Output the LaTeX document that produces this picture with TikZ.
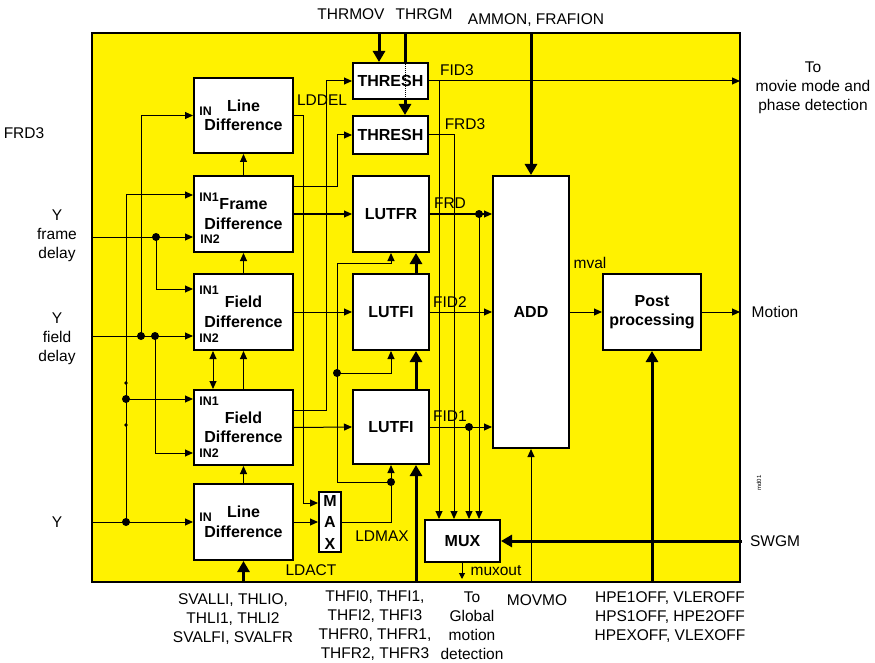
\documentclass[tikz,border=0pt]{standalone}
\usepackage{fontspec}
\setmainfont{Liberation Sans}
\usetikzlibrary{arrows.meta}

\begin{document}
\begin{tikzpicture}[x=1pt,y=-1pt,>={Triangle[length=8pt,width=7pt]},
    blk/.style={draw,fill=white,line width=2pt,inner sep=0pt,align=center,
      font=\bfseries\fontsize{16}{19.5}\selectfont},
    lbl/.style={inner sep=0pt,align=center,font=\fontsize{15.5}{19}\selectfont},
    pin/.style={inner sep=0pt,font=\bfseries\fontsize{12.4}{14}\selectfont},
    sig/.style={line width=1pt},
    bus/.style={line width=3pt,>={Triangle[length=11pt,width=12pt]}}]
    \useasboundingbox (0,0) rectangle (875,663);
    \draw[line width=2pt,fill=yellow] (92,33) rectangle (740,582);
    % difference blocks
    \node[blk,minimum width=99pt,minimum height=75pt] (ld1) at (243.5,115.5) {Line\\Difference};
    \node[blk,minimum width=99pt,minimum height=76pt] (fd) at (243.5,214) {Frame\\Difference};
    \node[blk,minimum width=99pt,minimum height=76pt] (fi1) at (243.5,312) {Field\\Difference};
    \node[blk,minimum width=99pt,minimum height=75pt] (fi2) at (243.5,427.5) {Field\\Difference};
    \node[blk,minimum width=99pt,minimum height=76pt] (ld2) at (243.5,522) {Line\\Difference};
    \node[pin] (ld1in) at (205.5,111) {IN};
    \node[pin] (fdin1) at (209,197) {IN1};
    \node[pin] (fdin2) at (210,239) {IN2};
    \node[pin] (fi1in1) at (209,290) {IN1};
    \node[pin] (fi1in2) at (209,338) {IN2};
    \node[pin] (fi2in1) at (209,401) {IN1};
    \node[pin] (fi2in2) at (209,453) {IN2};
    \node[pin] (ld2in) at (205.5,517) {IN};
    % middle column
    \node[blk,minimum width=22pt,minimum height=60pt,font=\bfseries\fontsize{16}{21.5}\selectfont] (max) at (330,522) {M\\A\\X};
    \node[blk,minimum width=75pt,minimum height=36pt] (th1) at (390.5,81) {THRESH};
    \node[blk,minimum width=75pt,minimum height=38pt] (th2) at (390.5,135) {THRESH};
    \node[blk,minimum width=76pt,minimum height=76pt] (lutfr) at (391,214) {LUTFR};
    \node[blk,minimum width=76pt,minimum height=76pt] (lutfi1) at (391,312) {LUTFI};
    \node[blk,minimum width=76pt,minimum height=74pt] (lutfi2) at (391,427) {LUTFI};
    \node[blk,minimum width=75pt,minimum height=42pt] (mux) at (462.5,541) {MUX};
    % right column
    \node[blk,minimum width=76pt,minimum height=272pt] (add) at (531,312) {ADD};
    \node[blk,minimum width=98pt,minimum height=76pt] (post) at (652,312) {Post\\processing};
    % free ends on the border
    \coordinate (yfr) at (92,237);
    \coordinate (yfd) at (92,336);
    \coordinate (yin) at (92,522);
    \coordinate (thrmov) at (379,33);
    \coordinate (thrgm) at (405,33);
    \coordinate (ammon) at (531,33);
    \coordinate (movie) at (740,81);
    \coordinate (motion) at (740,312);
    \coordinate (swgm) at (742,541);
    \coordinate (hpe) at (652,582);
    \coordinate (movmo) at (531,582);
    \coordinate (thfi) at (416,582);
    \coordinate (ldin) at (243.5,582);
    \coordinate (mout) at (462,579);
    % junctions
    \coordinate (j1) at (156,237);
    \coordinate (j2) at (141,336);
    \coordinate (j3) at (155,336);
    \coordinate (j4) at (126,522);
    \coordinate (j5) at (126,399);
    \coordinate (j6) at (391,482);
    \coordinate (j7) at (337,373);
    \coordinate (j8) at (439,81);
    \coordinate (j9) at (479,214);
    \coordinate (j10) at (469,427);
    % inputs
    \draw[sig,->] (yfr) -- (fd.west |- yfr);
    \draw[sig,->] (j1) |- (fi1.west |- 0,289);
    \draw[sig,->] (yfd) -- (fi1.west |- yfd);
    \draw[sig,->] (j2) |- (ld1.west);
    \draw[sig,->] (j3) |- (fi2.west |- 0,453);
    \draw[sig,->] (yin) -- (ld2.west);
    \draw[sig,->] (j4) |- (fd.west |- 0,195);
    \draw[sig,->] (j5) -- (fi2.west |- j5);
    \foreach \j in {j1,j2,j3,j4,j5,j6,j7,j9,j10}
      \fill (\j) circle (4pt);
    \fill (126,383) circle (1.8pt);
    \fill (126,425) circle (1.8pt);
    % between difference blocks
    \draw[sig,->] (fd.north) -- (ld1.south);
    \draw[sig,->] (fi1.north) -- (fd.south);
    \draw[sig,->] (fi2.north) -- (fi1.south);
    \draw[sig,<->] (fi2.north -| 213,0) -- (fi1.south -| 213,0);
    \draw[sig,->] (ld2.north) -- (fi2.south);
    \draw[bus,->] (ldin) -- (ld2.south);
    % to MAX, THRESH and LUT
    \draw[sig,->] (ld1.east) -| (303,503) -- (max.west |- 0,503);
    \draw[sig,->] (ld2.east) -- (max.west);
    \draw[sig,->] (max.east) -| (lutfi2.south);
    \draw[sig,->] (j6) -| (337,263) -| (lutfr.south);
    \draw[sig,->] (j7) -| (lutfi1.south);
    \draw[sig,->] (fd.east |- 0,187) -| (337,135) -- (th2.west);
    \draw[sig,->] (fd.east) -- (lutfr.west);
    \draw[sig,->] (fi1.east) -- (lutfi1.west);
    \draw[sig,->] (fi2.east |- 0,410) -| (326,81) -- (th1.west);
    \draw[sig,->] (fi2.east) -- (lutfi2.west);
    \draw[bus,->] (thfi) -- (lutfi2.south -| thfi);
    \draw[bus,->] (lutfi2.north -| thfi) -- (lutfi1.south -| thfi);
    \draw[bus,->] (lutfi1.north -| thfi) -- (lutfr.south -| thfi);
    % thresholds
    \draw[bus,->] (thrmov) -- (th1.north -| thrmov);
    \draw[bus] (thrgm) -- (th1.north -| thrgm);
    \draw[sig,densely dotted] (th1.north -| thrgm) -- (th1.south -| thrgm);
    \draw[bus,->] (th1.south -| thrgm) -- (th2.north -| thrgm);
    \draw[bus,->] (ammon) -- (add.north);
    % outputs
    \draw[sig,->] (th1.east) -- (movie);
    \draw[sig,->] (j8) -- (mux.north -| j8);
    \draw[sig,->] (th2.east) -| (mux.north -| 454,0);
    \draw[sig,->] (lutfr.east) -- (add.west |- lutfr.east);
    \draw[sig,->] (j9) -- (mux.north -| j9);
    \draw[sig,->] (lutfi1.east) -- (add.west);
    \draw[sig,->] (lutfi2.east) -- (add.west |- lutfi2.east);
    \draw[sig,->] (j10) -- (mux.north -| j10);
    \draw[sig,->] (add.east) -- (post.west);
    \draw[sig,->] (post.east) -- (motion);
    \draw[bus,->] (hpe) -- (post.south);
    \draw[sig,->] (movmo) -- (add.south);
    \draw[bus,->] (swgm) -- (mux.east);
    \draw[sig,->,>={Triangle[length=6pt,width=6pt]}] (mux.south -| mout) -- (mout);
    % signal names
    \node[lbl] (lfid3) at (457,70) {FID3};
    \node[lbl] (lfrd3) at (465,124) {FRD3};
    \node[lbl] (lfrd) at (450,203) {FRD};
    \node[lbl] (lfid2) at (450,302) {FID2};
    \node[lbl] (lfid1) at (450,416) {FID1};
    \node[lbl] (lmval) at (590,263) {mval};
    \node[lbl] (llddel) at (322,100) {LDDEL};
    \node[lbl] (lldmax) at (382,536) {LDMAX};
    \node[lbl] (lldact) at (311,570) {LDACT};
    \node[lbl] (lmuxout) at (496,571) {muxout};
    % outside texts
    \node[lbl] (lthrmov) at (351,14) {THRMOV};
    \node[lbl] (lthrgm) at (424,14) {THRGM};
    \node[lbl] (lammon) at (536,20) {AMMON, FRAFION};
    \node[lbl] (lmovie) at (813,88) {To\\movie mode and\\phase detection};
    \node[lbl] (lfrd3l) at (24,133) {FRD3};
    \node[lbl] (lyfr) at (57,236) {Y\\frame\\delay};
    \node[lbl] (lyfd) at (57,339) {Y\\field\\delay};
    \node[lbl] (ly) at (57,522) {Y};
    \node[lbl] (lmotion) at (775,312) {Motion};
    \node[lbl] (lswgm) at (775,541) {SWGM};
    \node[inner sep=0pt,rotate=90,font=\fontsize{6}{7}\selectfont] (lmd) at (759,483) {md01};
    \node[lbl] (lsval) at (233,619) {SVALLI, THLIO,\\THLI1, THLI2\\SVALFI, SVALFR};
    \node[lbl] (lthfi) at (375,626) {THFI0, THFI1,\\THFI2, THFI3\\THFR0, THFR1,\\THFR2, THFR3};
    \node[lbl] (lglob) at (472,626) {To\\Global\\motion\\detection};
    \node[lbl] (lmovmo) at (537,600) {MOVMO};
    \node[lbl] (lhpe) at (670,617) {HPE1OFF, VLEROFF\\HPS1OFF, HPE2OFF\\HPEXOFF, VLEXOFF};
\end{tikzpicture}
\end{document}
